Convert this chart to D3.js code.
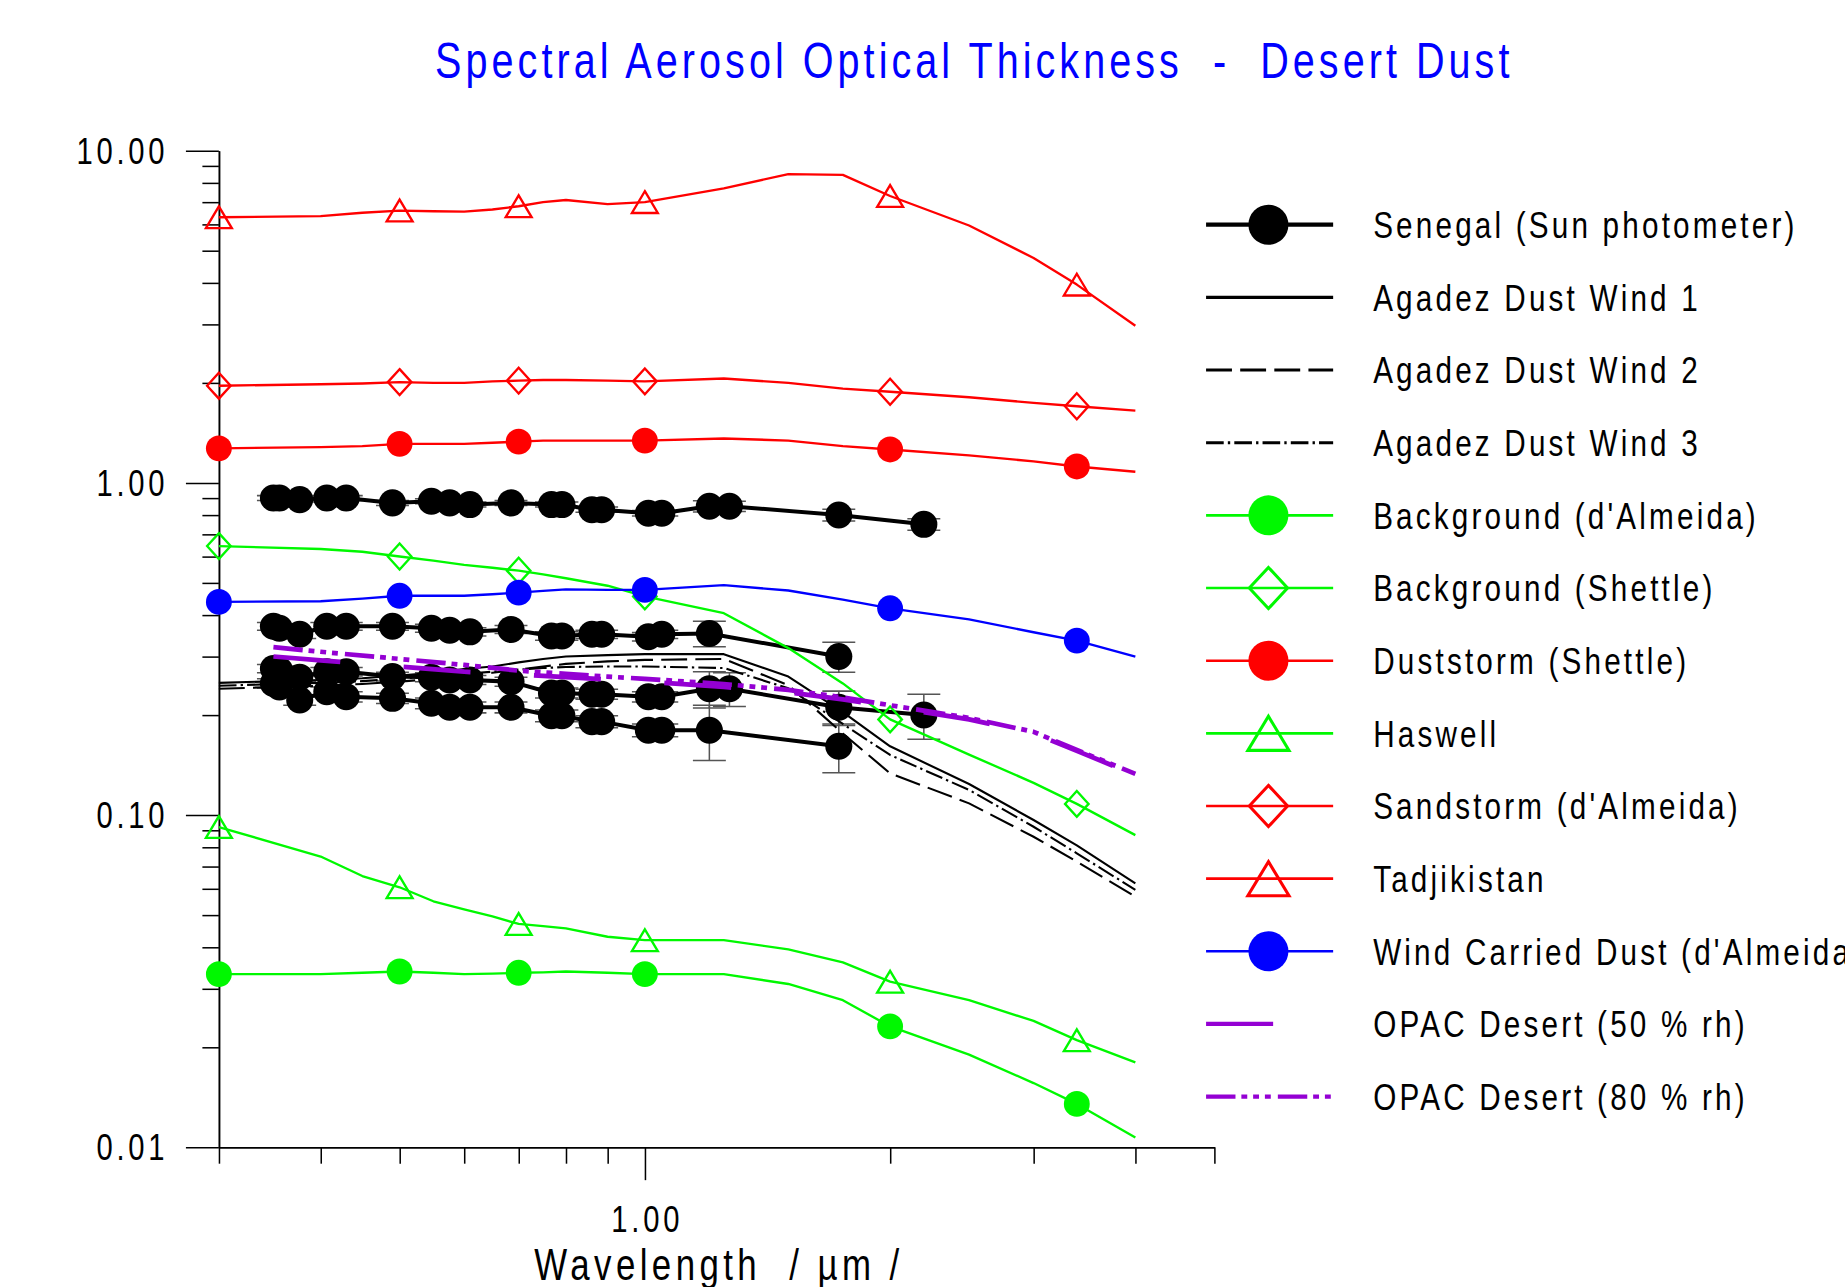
<!DOCTYPE html>
<html>
<head>
<meta charset="utf-8">
<title>Spectral Aerosol Optical Thickness - Desert Dust</title>
<script src="https://cdn.jsdelivr.net/npm/d3@7"></script>
<style>
    html, body { margin: 0; padding: 0; background: #fff; }
    #chart-area { width: 1845px; height: 1287px; overflow: hidden; }
    text { font-family: "Liberation Sans", Arial, sans-serif; }
</style>
</head>
<body>
<div id="chart-area"></div>
<script>

// ---------- data ----------

const chartTitle = "Spectral Aerosol Optical Thickness  -  Desert Dust";
const xTitle = "Wavelength  / µm /";

const yMajorTicks = [0.01, 0.1, 1, 10];
const yTickLabels = ["0.01", "0.10", "1.00", "10.00"];
const yMinorTicks = [0.02, 0.03, 0.04, 0.05, 0.06, 0.07, 0.08, 0.09,
                     0.2, 0.3, 0.4, 0.5, 0.6, 0.7, 0.8, 0.9,
                     2, 3, 4, 5, 6, 7, 8, 9];
const xMajorTicks = [1];
const xTickLabels = ["1.00"];
const xMinorTicks = [0.3, 0.4, 0.5, 0.6, 0.7, 0.8, 0.9, 2, 3, 4, 5];

const seriesNames = [
    "Senegal (Sun photometer)",
    "Agadez Dust Wind 1",
    "Agadez Dust Wind 2",
    "Agadez Dust Wind 3",
    "Background (d'Almeida)",
    "Background (Shettle)",
    "Duststorm (Shettle)",
    "Haswell",
    "Sandstorm (d'Almeida)",
    "Tadjikistan",
    "Wind Carried Dust (d'Almeida)",
    "OPAC Desert (50 % rh)",
    "OPAC Desert (80 % rh)"
];

// model spectra (um) and the wavelengths that carry a symbol
const lambdaModel = [0.3, 0.4, 0.45, 0.5, 0.55, 0.6, 0.65, 0.7, 0.75, 0.8, 0.9, 1.0, 1.25, 1.5, 1.75, 2.0, 2.5, 3.0, 3.39, 4.0];
const markerLambda = [0.3, 0.5, 0.7, 1.0, 2.0, 3.39];

const tadjikistan = [6.3, 6.35, 6.5, 6.6, 6.57, 6.55, 6.65, 6.8, 7.0, 7.1, 6.9, 7.0, 7.7, 8.5, 8.45, 7.3, 5.95, 4.75, 3.95, 2.97];
const sandstorm   = [1.96, 1.98, 1.99, 2.01, 2.0, 2.0, 2.02, 2.03, 2.04, 2.04, 2.03, 2.02, 2.06, 2.0, 1.92, 1.88, 1.81, 1.74, 1.70, 1.65];
const duststorm   = [1.27, 1.28, 1.29, 1.31, 1.31, 1.31, 1.32, 1.33, 1.34, 1.34, 1.34, 1.34, 1.36, 1.34, 1.29, 1.26, 1.21, 1.16, 1.12, 1.08];
const bgShettle   = [0.645, 0.632, 0.62, 0.60, 0.583, 0.566, 0.555, 0.544, 0.53, 0.516, 0.49, 0.455, 0.405, 0.318, 0.249, 0.194, 0.152, 0.125, 0.108, 0.087];
const windCarried = [0.438, 0.44, 0.448, 0.457, 0.457, 0.457, 0.462, 0.467, 0.473, 0.478, 0.476, 0.476, 0.492, 0.474, 0.445, 0.419, 0.388, 0.355, 0.335, 0.30];
const haswell     = [0.092, 0.075, 0.0655, 0.0606, 0.055, 0.052, 0.0495, 0.047, 0.0463, 0.0456, 0.043, 0.042, 0.042, 0.0394, 0.036, 0.0315, 0.0277, 0.024, 0.021, 0.018];
const bgAlmeida   = [0.0332, 0.0332, 0.0335, 0.0338, 0.0335, 0.0332, 0.0333, 0.0335, 0.0336, 0.0338, 0.0335, 0.0332, 0.0332, 0.031, 0.0277, 0.0231, 0.019, 0.0156, 0.0135, 0.0107];
const agadez1     = [0.25, 0.255, 0.258, 0.263, 0.268, 0.275, 0.28, 0.288, 0.295, 0.30, 0.303, 0.305, 0.305, 0.261, 0.204, 0.161, 0.124, 0.0966, 0.081, 0.0623];
const agadez2     = [0.24, 0.245, 0.248, 0.252, 0.257, 0.262, 0.268, 0.274, 0.28, 0.285, 0.29, 0.293, 0.295, 0.246, 0.176, 0.1335, 0.1084, 0.086, 0.0724, 0.0568];
const agadez3     = [0.245, 0.25, 0.253, 0.257, 0.262, 0.266, 0.27, 0.274, 0.277, 0.279, 0.28, 0.28, 0.277, 0.2406, 0.188, 0.1516, 0.119, 0.0922, 0.0767, 0.0595];

// OPAC desert aerosol
const lambdaOpac = [0.35, 0.4, 0.5, 0.6, 0.7, 0.8, 0.9, 1.0, 1.25, 1.5, 1.75, 2.0, 2.5, 3.0, 3.39, 4.0];
const opac50 = [0.30, 0.292, 0.28, 0.27, 0.265, 0.26, 0.256, 0.252, 0.243, 0.234, 0.223, 0.212, 0.194, 0.176, 0.156, 0.132];
const opac80 = [0.32, 0.31, 0.295, 0.283, 0.272, 0.266, 0.261, 0.257, 0.248, 0.238, 0.226, 0.214, 0.196, 0.178, 0.157, 0.133];

// Senegal sun photometer, four days (null = channel missing)
const lambdaSenegal = [0.35, 0.356, 0.377, 0.407, 0.43, 0.49, 0.547, 0.576, 0.61, 0.685, 0.768, 0.791, 0.861, 0.885, 1.01, 1.049, 1.2, 1.27, 1.73, 2.2];
const senegalA = [0.90, 0.90, 0.89, 0.90, 0.90, 0.87, 0.88, 0.87, 0.86, 0.87, 0.86, 0.86, 0.83, 0.83, 0.81, 0.81, 0.85, 0.85, 0.80, 0.75];
const senegalB = [0.37, 0.365, 0.35, 0.37, 0.37, 0.37, 0.365, 0.36, 0.356, 0.362, 0.346, 0.346, 0.35, 0.35, 0.344, 0.35, 0.352, null, 0.30, null];
const senegalC = [0.276, 0.273, 0.26, 0.27, 0.27, 0.261, 0.26, 0.255, 0.255, 0.252, 0.233, 0.233, 0.231, 0.231, 0.227, 0.227, 0.24, 0.24, 0.211, 0.20];
const senegalD = [0.249, 0.243, 0.222, 0.235, 0.227, 0.2245, 0.217, 0.211, 0.211, 0.211, 0.199, 0.199, 0.191, 0.191, 0.18, 0.18, 0.18, null, 0.161, null];
const errorA = [0.015, 0.015, 0.015, 0.015, 0.015, 0.015, 0.015, 0.015, 0.015, 0.015, 0.015, 0.015, 0.015, 0.015, 0.015, 0.015, 0.033, 0.03, 0.032, 0.03];
const errorB = [0.01, 0.01, 0.01, 0.01, 0.01, 0.01, 0.01, 0.01, 0.01, 0.01, 0.01, 0.01, 0.01, 0.01, 0.01, 0.01, 0.031, null, 0.031, null];
const errorC = [0.008, 0.008, 0.008, 0.008, 0.008, 0.008, 0.008, 0.008, 0.008, 0.008, 0.008, 0.008, 0.008, 0.008, 0.008, 0.008, 0.03, 0.028, 0.025, 0.031];
const errorD = [0.008, 0.008, 0.008, 0.008, 0.008, 0.008, 0.008, 0.008, 0.008, 0.008, 0.008, 0.008, 0.008, 0.008, 0.008, 0.008, 0.034, null, 0.027, null];


// ---------- styles ----------

const GREEN = "#00f800", RED = "#ff0000", BLUE = "#0000ff", PURPLE = "#9400d3";

const seriesStyle = {
    "Senegal (Sun photometer)":      {color: "#000", width: 3.4, legendWidth: 3.6, marker: "circle", r: 11.5},
    "Agadez Dust Wind 1":            {color: "#000", width: 1.8, legendWidth: 2.6},
    "Agadez Dust Wind 2":            {color: "#000", width: 1.8, legendWidth: 2.6, dash: "22,7"},
    "Agadez Dust Wind 3":            {color: "#000", width: 1.8, legendWidth: 2.6, dash: "15,3.5,2,3.5"},
    "Background (d'Almeida)":        {color: GREEN, width: 2, legendWidth: 2.2, marker: "circle"},
    "Background (Shettle)":          {color: GREEN, width: 2, legendWidth: 2.2, marker: "diamond"},
    "Duststorm (Shettle)":           {color: RED, width: 2, legendWidth: 2.2, marker: "circle"},
    "Haswell":                       {color: GREEN, width: 2, legendWidth: 2.2, marker: "triangle"},
    "Sandstorm (d'Almeida)":         {color: RED, width: 2, legendWidth: 2.2, marker: "diamond"},
    "Tadjikistan":                   {color: RED, width: 2, legendWidth: 2.2, marker: "triangle"},
    "Wind Carried Dust (d'Almeida)": {color: BLUE, width: 2, legendWidth: 2.2, marker: "circle"},
    "OPAC Desert (50 % rh)":         {color: PURPLE, width: 4, legendWidth: 3.6, dash: "57,54"},
    "OPAC Desert (80 % rh)":         {color: PURPLE, width: 4, legendWidth: 3.6, dash: "25,5,5,5,5,5,5,6"}
};

const plotMarker = {r: 11, triW: 22, triH: 18.5, diaW: 20, diaH: 22, stroke: 2};
const legendMarker = {r: 17, triW: 35, triH: 29, diaW: 32.5, diaH: 35, stroke: 2.6};


class SpectrumChart {

    // constructor method to initialize the chart
    constructor(parentElement) {
        this.parentElement = parentElement;
        this.initVis();
    }

    initVis() {
        let vis = this;

        // drawn in the units of the 1568 px wide copy, scaled up to 1845 x 1287
        vis.svg = d3.select("#" + vis.parentElement).append("svg")
            .attr("width", 1845)
            .attr("height", 1287)
            .attr("viewBox", "0 0 1568 1093.8");

        vis.x = d3.scaleLog().domain([0.3, 5]).range([186, 1032]);
        vis.y = d3.scaleLog().domain([0.01, 10]).range([975, 128]);

        vis.line = d3.line()
            .x(d => vis.x(d.l))
            .y(d => vis.y(d.v));

        // title
        vis.addLabel(vis.svg, chartTitle, 828, 66, 42, 4.3, "middle", BLUE);

        // axes: minor ticks short, decades long
        vis.svg.append("g")
            .attr("class", "axis y-minor")
            .attr("transform", "translate(186,0)")
            .call(d3.axisLeft(vis.y).tickValues(yMinorTicks).tickSize(14).tickSizeOuter(0).tickFormat(""));
        vis.svg.append("g")
            .attr("class", "axis y-major")
            .attr("transform", "translate(186,0)")
            .call(d3.axisLeft(vis.y).tickValues(yMajorTicks).tickSize(28).tickSizeOuter(0).tickFormat(""));
        vis.svg.append("g")
            .attr("class", "axis x-minor")
            .attr("transform", "translate(0,975)")
            .call(d3.axisBottom(vis.x).tickValues(xMinorTicks).tickSize(14).tickSizeOuter(0).tickFormat(""));
        vis.svg.append("g")
            .attr("class", "axis x-major")
            .attr("transform", "translate(0,975)")
            .call(d3.axisBottom(vis.x).tickValues(xMajorTicks).tickSize(28).tickSizeOuter(0).tickFormat(""));

        vis.svg.selectAll(".axis path, .axis line")
            .attr("stroke", "#000")
            .attr("stroke-width", 1.3);

        // tick labels
        yMajorTicks.forEach((d, i) => {
            vis.addLabel(vis.svg, yTickLabels[i], 143, vis.y(d) + 11, 31, 4, "end");
        });
        xMajorTicks.forEach((d, i) => {
            vis.addLabel(vis.svg, xTickLabels[i], vis.x(d) + 2, 1047, 31, 4, "middle");
        });

        // axis title (cut by the lower edge, as in the original)
        vis.addLabel(vis.svg, xTitle, 611, 1088, 37, 4.7, "middle");

        // layer for the data
        vis.plot = vis.svg.append("g").attr("class", "plot");

        // legend
        vis.legendY = d3.scalePoint().domain(seriesNames).range([191, 932]);
        vis.legend = vis.svg.append("g").attr("class", "legend");

        seriesNames.forEach(name => {
            let st = seriesStyle[name];
            let yy = vis.legendY(name);
            let row = vis.legend.append("g").attr("transform", `translate(0,${yy})`);

            row.append("line")
                .attr("x1", 1025).attr("x2", 1133)
                .attr("y1", 0).attr("y2", 0)
                .attr("stroke", st.color)
                .attr("stroke-width", st.legendWidth)
                .attr("stroke-dasharray", st.dash || null);

            if (st.marker) {
                vis.drawMarker(row, st, 1078, 0, legendMarker, true);
            }

            vis.addLabel(row, name, 1167, 11.3, 31.5, 3.4, "start");
        });

        this.wrangleData();
    }

    wrangleData() {
        let vis = this;

        let zip = (lams, vals, errs) => lams
            .map((l, i) => ({l: l, v: vals[i], e: errs ? errs[i] : null}))
            .filter(d => d.v != null);

        vis.senegal = [
            zip(lambdaSenegal, senegalA, errorA),
            zip(lambdaSenegal, senegalB, errorB),
            zip(lambdaSenegal, senegalC, errorC),
            zip(lambdaSenegal, senegalD, errorD)
        ];

        vis.agadez = [
            {name: "Agadez Dust Wind 1", points: zip(lambdaModel, agadez1)},
            {name: "Agadez Dust Wind 2", points: zip(lambdaModel, agadez2)},
            {name: "Agadez Dust Wind 3", points: zip(lambdaModel, agadez3)}
        ];

        vis.models = [
            {name: "Background (d'Almeida)", points: zip(lambdaModel, bgAlmeida)},
            {name: "Background (Shettle)", points: zip(lambdaModel, bgShettle)},
            {name: "Duststorm (Shettle)", points: zip(lambdaModel, duststorm)},
            {name: "Haswell", points: zip(lambdaModel, haswell)},
            {name: "Sandstorm (d'Almeida)", points: zip(lambdaModel, sandstorm)},
            {name: "Tadjikistan", points: zip(lambdaModel, tadjikistan)},
            {name: "Wind Carried Dust (d'Almeida)", points: zip(lambdaModel, windCarried)}
        ];

        vis.opac = [
            {name: "OPAC Desert (50 % rh)", points: zip(lambdaOpac, opac50)},
            {name: "OPAC Desert (80 % rh)", points: zip(lambdaOpac, opac80)}
        ];

        vis.updateVis();
    }

    updateVis() {
        let vis = this;
        let senStyle = seriesStyle["Senegal (Sun photometer)"];

        // Senegal measurements: error bars, lines, dots
        let senG = vis.plot.append("g").attr("class", "senegal");
        vis.senegal.forEach(points => {
            senG.append("g")
                .selectAll("path")
                .data(points.filter(d => d.e))
                .enter()
                .append("path")
                .attr("d", d => {
                    let cx = vis.x(d.l), top = vis.y(d.v + d.e), bot = vis.y(d.v - d.e);
                    return `M${cx - 14},${top}H${cx + 14}M${cx},${top}V${bot}M${cx - 14},${bot}H${cx + 14}`;
                })
                .attr("fill", "none")
                .attr("stroke", "#555")
                .attr("stroke-width", 1.3);
        });
        vis.senegal.forEach(points => {
            senG.append("path")
                .datum(points)
                .attr("d", vis.line)
                .attr("fill", "none")
                .attr("stroke", senStyle.color)
                .attr("stroke-width", senStyle.width)
                .attr("stroke-linejoin", "round");
            points.forEach(d => vis.drawMarker(senG, senStyle, vis.x(d.l), vis.y(d.v), plotMarker));
        });

        // Agadez, model spectra, OPAC on top
        let drawSeries = (list, withMarkers) => {
            list.forEach(s => {
                let st = seriesStyle[s.name];
                let g = vis.plot.append("g").attr("class", "series");
                g.append("path")
                    .datum(s.points)
                    .attr("d", vis.line)
                    .attr("fill", "none")
                    .attr("stroke", st.color)
                    .attr("stroke-width", st.width)
                    .attr("stroke-dasharray", st.dash || null)
                    .attr("stroke-linejoin", "round");
                if (withMarkers) {
                    s.points
                        .filter(d => markerLambda.includes(d.l))
                        .forEach(d => vis.drawMarker(g, st, vis.x(d.l), vis.y(d.v), plotMarker));
                }
            });
        };

        drawSeries(vis.agadez, false);
        drawSeries(vis.models, true);
        drawSeries(vis.opac, false);
    }

    drawMarker(parent, st, cx, cy, size, inLegend) {
        if (st.marker === "circle") {
            parent.append("circle")
                .attr("cx", cx).attr("cy", cy)
                .attr("r", (!inLegend && st.r) ? st.r : size.r)
                .attr("fill", st.color);
            return;
        }
        let d;
        if (st.marker === "triangle") {
            d = `M0,${-size.triH / 2}L${size.triW / 2},${size.triH / 2}L${-size.triW / 2},${size.triH / 2}Z`;
        } else {
            d = `M0,${-size.diaH / 2}L${size.diaW / 2},0L0,${size.diaH / 2}L${-size.diaW / 2},0Z`;
        }
        parent.append("path")
            .attr("transform", `translate(${cx},${cy})`)
            .attr("d", d)
            .attr("fill", "none")
            .attr("stroke", st.color)
            .attr("stroke-width", size.stroke);
    }

    // narrow, tracked lettering like the original plot program
    addLabel(parent, str, x, y, size, spacing, anchor, color) {
        return parent.append("text")
            .attr("transform", `translate(${x},${y}) scale(0.8,1)`)
            .attr("text-anchor", anchor)
            .attr("fill", color || "#000")
            .style("font-size", size + "px")
            .style("letter-spacing", spacing + "px")
            .style("white-space", "pre")
            .text(str);
    }
}

new SpectrumChart("chart-area");

</script>
</body>
</html>
